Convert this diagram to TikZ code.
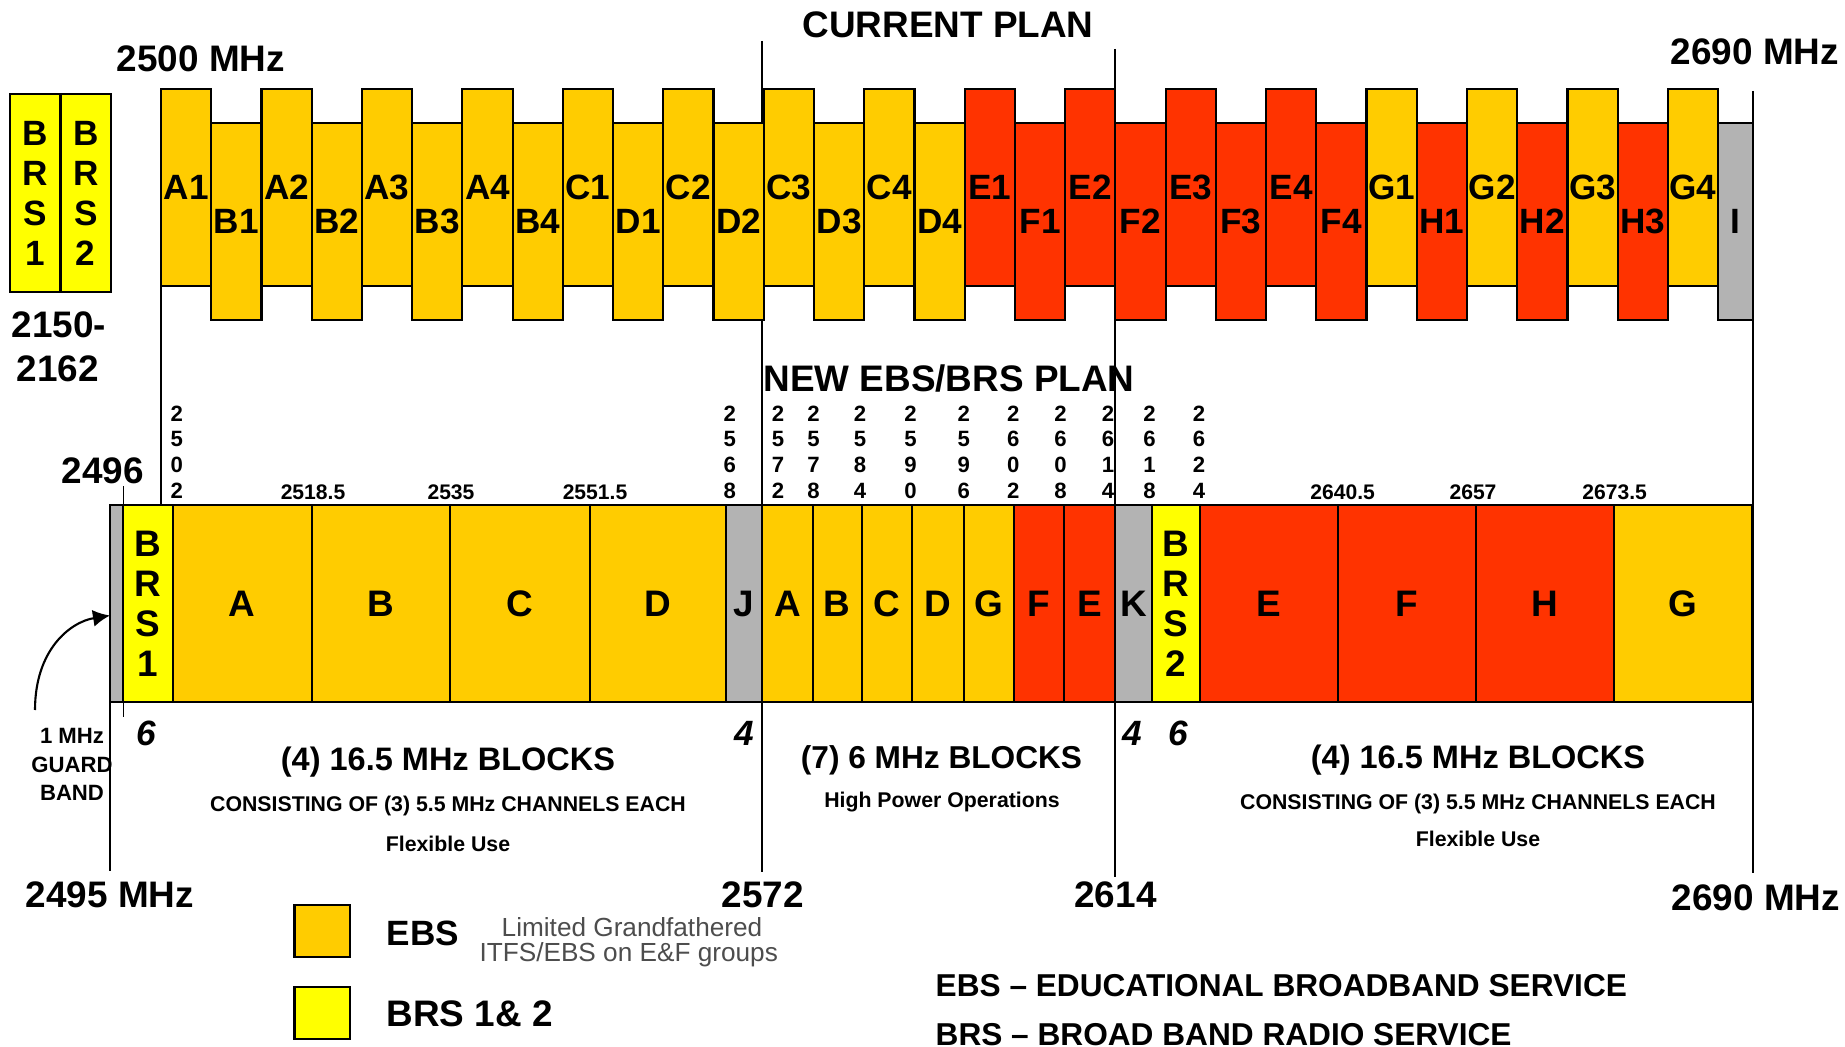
\documentclass[tikz,border=0pt]{standalone}
\usepackage{fontspec}
\setmainfont{Liberation Sans}
\usetikzlibrary{arrows.meta}
\definecolor{ebs}{HTML}{FFCC00}
\definecolor{efgrp}{HTML}{FF3300}
\definecolor{brs}{HTML}{FFFF00}
\definecolor{guard}{HTML}{B3B3B3}
\definecolor{note}{HTML}{4D4D4D}

\begin{document}
\begin{tikzpicture}[x=0.1mm, y=-0.1mm,
  chan/.style={draw, line width=0.6pt, outer sep=0pt, inner sep=0pt, anchor=north west,
    minimum width=5.023mm, minimum height=19.7mm, font=\bfseries\fontsize{10}{12}\selectfont},
  block/.style={draw, line width=0.6pt, outer sep=0pt, inner sep=0pt, minimum height=19.7mm,
    align=center, font=\bfseries\fontsize{10.5}{11.4}\selectfont},
  big/.style={anchor=base, inner sep=0pt, font=\bfseries\fontsize{10.5}{12}\selectfont},
  title/.style={anchor=base, inner sep=0pt, font=\bfseries\fontsize{10.5}{12}\selectfont},
  freq/.style={anchor=base, inner sep=0pt, font=\bfseries\fontsize{6}{7}\selectfont},
  digits/.style={anchor=south, inner sep=0pt, align=center, font=\bfseries\fontsize{6.3}{7.3}\selectfont},
  ital/.style={anchor=base, inner sep=0pt, font=\bfseries\itshape\fontsize{10}{12}\selectfont},
  blk/.style={anchor=base, inner sep=0pt, font=\bfseries\fontsize{9.25}{11}\selectfont},
  sub/.style={anchor=base, inner sep=0pt, font=\bfseries\fontsize{6.06}{7}\selectfont},
  note/.style={anchor=base, inner sep=0pt, text=note, font=\fontsize{7.45}{9}\selectfont},
  defn/.style={anchor=base west, inner sep=0pt, font=\bfseries\fontsize{9}{11}\selectfont},
  legbox/.style={draw, line width=0.6pt, anchor=north west, inner sep=0pt, outer sep=0pt,
    minimum width=5.58mm, minimum height=5.17mm},
  guide/.style={line width=0.4pt}]
\useasboundingbox (0,0) rectangle (1845,1047);

% Lignes de repere
\draw[guide] (161,89) -- (161,505);
\draw[guide] (762,41) -- (762,872);
\draw[guide] (1115,49) -- (1115,877);
\draw[guide] (1753,91) -- (1753,873);
\draw[guide] (110,702) -- (110,871);
\draw[guide] (123.4,486) -- (123.4,717);

% Plan actuel
\node[title] (title-cur) at (948,38) {CURRENT PLAN};
\node[big] (f2500) at (201,72) {2500 MHz};
\node[big] (f2690top) at (1755,65) {2690 MHz};
\node[chan, fill=brs, minimum width=5.05mm, minimum height=19.8mm, align=center,
  font=\bfseries\fontsize{10}{11.4}\selectfont] (brs1) at (10,94.3) {B\\R\\S\\1};
\node[chan, fill=brs, minimum width=5.05mm, minimum height=19.8mm, align=center,
  font=\bfseries\fontsize{10}{11.4}\selectfont] (brs2) at (60.5,94.3) {B\\R\\S\\2};
\node[big] (f2150) at (59,337) {2150-};
\node[big] (f2162) at (58,382) {2162};

\foreach \lab/\col/\yt [count=\i from 0] in {A1/ebs/89, B1/ebs/123, A2/ebs/89, B2/ebs/123,
    A3/ebs/89, B3/ebs/123, A4/ebs/89, B4/ebs/123, C1/ebs/89, D1/ebs/123, C2/ebs/89, D2/ebs/123,
    C3/ebs/89, D3/ebs/123, C4/ebs/89, D4/ebs/123, E1/efgrp/89, F1/efgrp/123, E2/efgrp/89,
    F2/efgrp/123, E3/efgrp/89, F3/efgrp/123, E4/efgrp/89, F4/efgrp/123, G1/ebs/89, H1/efgrp/123,
    G2/ebs/89, H2/efgrp/123, G3/ebs/89, H3/efgrp/123, G4/ebs/89}
  \node[chan, fill=\col] (cur-\lab) at ({161+50.23*\i},\yt) {\lab};
\node[chan, fill=guard, minimum width=3.5mm] (cur-I) at (1718,123) {I};

% Nouveau plan
\node[title] (title-new) at (949,391.7) {NEW EBS/BRS PLAN};
\node[big] (f2496) at (103,483) {2496};

\foreach \x/\d [count=\i] in {176.7/{2\\5\\0\\2}, 729.7/{2\\5\\6\\8}, 778/{2\\5\\7\\2},
    813.5/{2\\5\\7\\8}, 860/{2\\5\\8\\4}, 910.4/{2\\5\\9\\0}, 963.8/{2\\5\\9\\6},
    1013.2/{2\\6\\0\\2}, 1060.6/{2\\6\\0\\8}, 1108/{2\\6\\1\\4}, 1149.6/{2\\6\\1\\8},
    1199/{2\\6\\2\\4}}
  \node[digits] (st-\i) at (\x,499) {\d};

\foreach \x/\f [count=\i] in {313/2518.5, 451/2535, 595/2551.5, 1342.6/2640.5, 1473/2657,
    1614.6/2673.5}
  \node[freq] (fq-\i) at (\x,499) {\f};

\foreach \xa/\xb/\lab/\col [count=\i] in {110/123.4//guard, 123.4/172.8/{B\\R\\S\\1}/brs,
    172.8/311.6/A/ebs, 311.6/450/B/ebs, 450/590/C/ebs, 590/725.7/D/ebs, 725.7/762/J/guard,
    762/812.7/A/ebs, 812.7/861.8/B/ebs, 861.8/912.4/C/ebs, 912.4/963.8/D/ebs,
    963.8/1014.4/G/ebs, 1014.4/1063.8/F/efgrp, 1063.8/1115.2/E/efgrp, 1115.2/1151.6/K/guard,
    1151.6/1200.2/{B\\R\\S\\2}/brs, 1200.2/1337.8/E/efgrp, 1337.8/1475.6/F/efgrp,
    1475.6/1613.9/H/efgrp, 1613.9/1752/G/ebs}
  \node[block, fill=\col, minimum width={(\xb-\xa)*0.1mm}] (new-\i) at ({(\xa+\xb)/2},603.5) {\lab};

% Bande de garde
\node[anchor=north, inner sep=0pt, align=center, font=\bfseries\fontsize{6.3}{8.1}\selectfont]
  (gb-label) at (72,728) {1 MHz\\GUARD\\BAND};
\coordinate (gb-tail) at (35,710);
\draw[-{Latex[length=1.7mm,width=1.7mm]}, line width=0.6pt] (gb-tail)
  .. controls (35,650) and (70,622) .. ([yshift=-1.2mm]new-1.west);

% Blocs
\node[ital] (n6l) at (146.6,745) {6};
\node[ital] (n4l) at (744,745) {4};
\node[ital] (n4r) at (1132.5,745) {4};
\node[ital] (n6r) at (1178.5,745) {6};

\node[blk] (left-blocks) at (448,770) {(4) 16.5 MHz BLOCKS};
\node[sub] (left-sub) at (448,811) {CONSISTING OF (3) 5.5 MHz CHANNELS EACH};
\node[sub] (left-use) at (448,851) {Flexible Use};
\node[blk, font=\bfseries\fontsize{9}{11}\selectfont] (mid-blocks) at (941.5,768) {(7) 6 MHz BLOCKS};
\node[sub] (mid-sub) at (942,807) {High Power Operations};
\node[blk] (right-blocks) at (1478,768) {(4) 16.5 MHz BLOCKS};
\node[sub] (right-sub) at (1478,809) {CONSISTING OF (3) 5.5 MHz CHANNELS EACH};
\node[sub] (right-use) at (1478,846.7) {Flexible Use};

\node[big] (f2495) at (110,907) {2495 MHz};
\node[big] (f2572) at (763,907) {2572};
\node[big] (f2614) at (1115.5,907) {2614};
\node[big] (f2690) at (1756,910) {2690 MHz};

% Legende
\node[legbox, fill=ebs] (leg-ebs) at (294.5,905) {};
\node[legbox, fill=brs] (leg-brs) at (294.5,987.3) {};
\node[anchor=base west, inner sep=0pt, font=\bfseries\fontsize{10}{12}\selectfont] (leg-ebs-txt) at (386,945) {EBS};
\node[anchor=base west, inner sep=0pt, font=\bfseries\fontsize{10.5}{12}\selectfont] (leg-brs-txt) at (386,1026.7) {BRS 1\& 2};
\node[note] (note1) at (632,936.7) {Limited Grandfathered};
\node[note] (note2) at (628.7,961) {ITFS/EBS on E\&F groups};

\node[defn] (def-ebs) at (935,996.7) {EBS -- EDUCATIONAL BROADBAND SERVICE};
\node[defn] (def-brs) at (935,1045) {BRS -- BROAD BAND RADIO SERVICE};
\end{tikzpicture}
\end{document}
